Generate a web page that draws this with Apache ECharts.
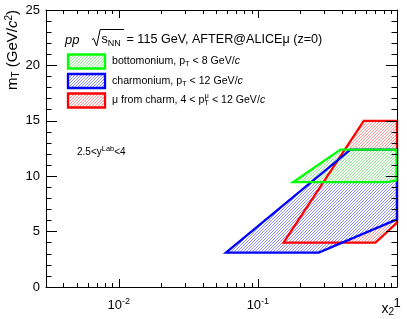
<!DOCTYPE html>
<html><head><meta charset="utf-8">
<script src="https://cdn.jsdelivr.net/npm/echarts@6/dist/echarts.min.js"></script>
<style>html,body{margin:0;padding:0;background:#fff}#c{width:407px;height:319px}</style>
</head><body><div id="c"></div>
<script>
const FF = 'Liberation Sans, Arial, Helvetica, sans-serif';

// polygon vertices (x2, mT)
const bottomoniumX = [0.179, 0.392, 1.0, 1.0, 0.85];
const bottomoniumY = [9.46, 12.4, 12.4, 9.62, 9.46];
const charmoniumX = [0.059, 0.274, 1.0, 1.0, 0.463];
const charmoniumY = [3.1, 3.1, 6.1, 12.4, 12.4];
const muonX = [0.153, 0.70, 1.0, 1.0, 0.577];
const muonY = [4.0, 4.0, 5.8, 15.0, 15.0];

const xMin = 0.003, xMax = 1;
const yMin = 0, yMax = 25, yInterval = 5;
const xMajorTicks = [0.01, 0.1, 1];
const xMinorTicks = [0.003,0.004,0.005,0.006,0.007,0.008,0.009,
                     0.02,0.03,0.04,0.05,0.06,0.07,0.08,0.09,
                     0.2,0.3,0.4,0.5,0.6,0.7,0.8,0.9];
const xTickLabels = {'-2': '{b|10}{s|-2}', '-1': '{b|10}{s|-1}', '0': '{b|1}'};

// pixel-aligned hatch: identical geometry for all, so later fills cover earlier ones
function hatch(col) {
  const s = 3;
  const c = document.createElement('canvas');
  c.width = s; c.height = s;
  const g = c.getContext('2d');
  g.fillStyle = col;
  for (let i = 0; i < s; i++) g.fillRect(i, s - 1 - i, 1, 1);
  return {image: c, repeat: 'repeat'};
}
const hatchG = hatch('#8cee8c');
const hatchB = hatch('#8c8cff');
const hatchR = hatch('#ff9090');

function polySeries(name, xs, ys, fill, stroke, z) {
  return {
    type: 'custom', name: name, coordinateSystem: 'cartesian2d', z: z, clip: false, silent: true,
    data: xs.map((x, i) => [x, ys[i]]),
    renderItem: function (params, api) {
      if (params.dataIndex !== 0) return null;
      const pts = xs.map((x, i) => api.coord([x, ys[i]]));
      return {type: 'polygon', shape: {points: pts},
        style: stroke ? {fill: null, stroke: stroke, lineWidth: 2.3, lineJoin: 'miter'}
                      : {fill: fill, stroke: null}};
    }
  };
}

function tickSeries(vals, len) {
  return {
    type: 'custom', coordinateSystem: 'cartesian2d', z: 10, clip: false, silent: true,
    data: vals.map(v => [v, yMin]),
    renderItem: function (params, api) {
      const v = api.value(0);
      const b = api.coord([v, yMin]);
      const t = api.coord([v, yMax]);
      const x = Math.round(b[0]) + 0.5;
      return {type: 'group', children: [
        {type: 'line', shape: {x1: x, y1: b[1], x2: x, y2: b[1] - len}, style: {stroke: '#000', lineWidth: 1}},
        {type: 'line', shape: {x1: x, y1: t[1], x2: x, y2: t[1] + len}, style: {stroke: '#000', lineWidth: 1}}
      ]};
    }
  };
}

const sub = (fs) => ({fontSize: fs, fontFamily: FF, color: '#000', padding: [fs * 0.7, 0, 0, 0]});
const sup = (fs) => ({fontSize: fs, fontFamily: FF, color: '#000', padding: [0, 0, fs * 0.8, 0]});
const base = (fs) => ({fontSize: fs, fontFamily: FF, color: '#000'});
const ital = (fs) => ({fontSize: fs, fontFamily: FF, color: '#000', fontStyle: 'italic'});

const yAxisCommon = {
  type: 'value', min: yMin, max: yMax, interval: yInterval,
  axisLine: {show: true, lineStyle: {color: '#000', width: 1}},
  axisTick: {show: true, inside: true, length: 11, lineStyle: {color: '#000'}},
  minorTick: {show: true, splitNumber: 5, length: 5.5, lineStyle: {color: '#000'}},
  splitLine: {show: false}, z: 10
};

const option = {
  animation: false,
  grid: {left: 46, right: 10, top: 10, bottom: 32, containLabel: false},
  xAxis: [{
    type: 'log', logBase: 10, min: xMin, max: xMax, position: 'bottom',
    axisLine: {show: true, onZero: false, lineStyle: {color: '#000', width: 1}},
    axisTick: {show: false}, splitLine: {show: false}, minorTick: {show: false},
    axisLabel: {
      show: true, showMinLabel: false, margin: 10, fontSize: 13, fontFamily: FF, color: '#000',
      formatter: function (v) {
        const e = Math.log10(v);
        const r = Math.round(e);
        if (Math.abs(e - r) > 1e-6) return '';
        return xTickLabels[String(r)] || '';
      },
      rich: {b: base(13), s: sup(9)}
    }, z: 10
  }, {
    type: 'log', logBase: 10, min: xMin, max: xMax, position: 'top',
    axisLine: {show: true, onZero: false, lineStyle: {color: '#000', width: 1}},
    axisTick: {show: false}, axisLabel: {show: false}, splitLine: {show: false}, z: 10
  }],
  yAxis: [Object.assign({}, yAxisCommon, {
    position: 'left',
    axisLabel: {show: true, margin: 6, fontSize: 13, fontFamily: FF, color: '#000'}
  }), Object.assign({}, yAxisCommon, {
    position: 'right', axisLabel: {show: false}
  })],
  series: [
    polySeries('mu from charm', muonX, muonY, hatchR, null, 2),
    polySeries('charmonium', charmoniumX, charmoniumY, hatchB, null, 3),
    polySeries('bottomonium', bottomoniumX, bottomoniumY, hatchG, null, 4),
    polySeries('mu from charm', muonX, muonY, null, '#ff0000', 5),
    polySeries('charmonium', charmoniumX, charmoniumY, null, '#0000ff', 6),
    polySeries('bottomonium', bottomoniumX, bottomoniumY, null, '#00ff00', 7),
    tickSeries(xMajorTicks, 8),
    tickSeries(xMinorTicks, 4)
  ],
  graphic: [
    {type: 'text', x: 65, y: 40, style: {
      text: 'pp', verticalAlign: 'middle', align: 'left', font: 'italic 13px ' + FF, fill: '#000'}},
    {type: 'polyline', shape: {points: [[92, 39.5], [93.6, 38.5], [96.6, 46], [100.2, 29.5], [124, 29.5]]},
      style: {stroke: '#000', lineWidth: 1, fill: null}},
    {type: 'text', x: 101.5, y: 40, style: {
      text: '{b|s}{sub|NN}', verticalAlign: 'middle', align: 'left', font: '12.6px ' + FF,
      rich: {b: base(12.6), sub: sub(9)}}},
    {type: 'text', x: 126.5, y: 40, style: {
      text: '= 115 GeV, AFTER@ALICEμ (z=0)', verticalAlign: 'middle', align: 'left', font: '12.6px ' + FF, fill: '#000'}},
    {type: 'rect', shape: {x: 68, y: 54.5, width: 37, height: 14}, style: {fill: hatchG, stroke: '#00ff00', lineWidth: 2.3}},
    {type: 'rect', shape: {x: 68, y: 74, width: 37, height: 14}, style: {fill: hatchB, stroke: '#0000ff', lineWidth: 2.3}},
    {type: 'rect', shape: {x: 68, y: 93.5, width: 37, height: 14}, style: {fill: hatchR, stroke: '#ff0000', lineWidth: 2.3}},
    {type: 'text', x: 112, y: 61.5, style: {
      text: '{b|bottomonium, p}{sub|T}{b| < 8 GeV/}{i|c}', verticalAlign: 'middle', align: 'left', font: '10.6px ' + FF,
      rich: {b: base(10.6), i: ital(10.6), sub: sub(7.5)}}},
    {type: 'text', x: 112, y: 81, style: {
      text: '{b|charmonium, p}{sub|T}{b| < 12 GeV/}{i|c}', verticalAlign: 'middle', align: 'left', font: '10.6px ' + FF,
      rich: {b: base(10.6), i: ital(10.6), sub: sub(7.5)}}},
    {type: 'text', x: 112, y: 100.5, style: {
      text: '{b|μ from charm, 4 < p}{sub|T}{b| < 12 GeV/}{i|c}', verticalAlign: 'middle', align: 'left', font: '10.6px ' + FF,
      rich: {b: base(10.6), i: ital(10.6), sub: sub(7.5)}}},
    {type: 'text', x: 204.5, y: 96, style: {text: 'μ', font: '7.5px ' + FF, fill: '#000', verticalAlign: 'middle'}},
    {type: 'text', x: 77, y: 152, style: {
      text: '{b|2.5<y}{s|Lab}{b|<4}', verticalAlign: 'middle', align: 'left', font: '10px ' + FF,
      rich: {b: base(10), s: sup(7.5)}}},
    {type: 'text', x: 13, y: 10, rotation: Math.PI / 2, style: {
      text: '{b|m}{sub|T}{b| (GeV/}{i|c}{s|2}{b|)}', verticalAlign: 'middle', align: 'right', font: '15px ' + FF,
      rich: {b: base(15), i: ital(15), sub: sub(10), s: sup(10)}}},
    {type: 'text', x: 394, y: 309, style: {
      text: '{b|x}{sub|2}', verticalAlign: 'middle', align: 'right', font: '14px ' + FF,
      rich: {b: base(14), sub: sub(10)}}}
  ]
};

const chart = echarts.init(document.getElementById('c'), null, {renderer: 'canvas'});
chart.setOption(option);
</script>
</body></html>
